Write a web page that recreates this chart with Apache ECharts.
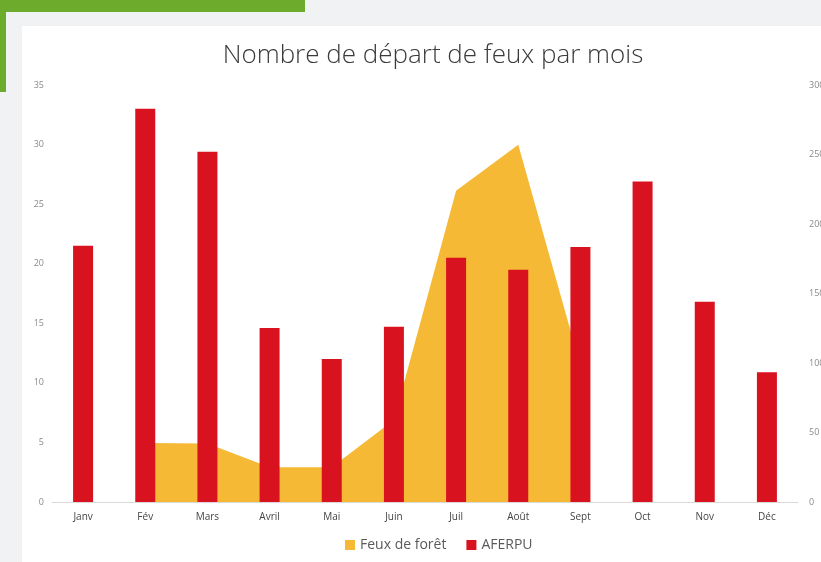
<!DOCTYPE html>
<html>
<head>
<meta charset="utf-8">
<script src="https://cdn.jsdelivr.net/npm/echarts@6/dist/echarts.min.js"></script>
<style>
  html, body { margin: 0; padding: 0; background: #ffffff; }
  #chart { width: 821px; height: 562px; }
</style>
</head>
<body>
<div id="chart"></div>
<script>
// months along the x axis
const months = ["Janv", "Fév", "Mars", "Avril", "Mai", "Juin", "Juil", "Août", "Sept", "Oct", "Nov", "Déc"];
// AFERPU, bars, left axis
const aferpu = [21.5, 33, 29.4, 14.6, 12, 14.7, 20.5, 19.5, 21.4, 26.9, 16.8, 10.9];
// Feux de forêt, area, right axis (no values outside Fév-Sept)
const feuxForet = [null, 42.5, 42, 25, 25, 59, 224, 257, 98, null, null, null];
// tick labels
const leftTicks = [0, 5, 10, 15, 20, 25, 30, 35];
const rightTicks = [0, 50, 100, 150, 200, 250, 300];

const chart = echarts.init(document.getElementById("chart"));

chart.setOption({
  backgroundColor: "#f1f2f4",
  animation: false,
  graphic: [
    { type: "rect", left: 22, top: 26, shape: { width: 799, height: 536 }, style: { fill: "#ffffff" }, z: -10 },
    { type: "rect", left: 0, top: 0, shape: { width: 305, height: 12 }, style: { fill: "#6cab2c" }, z: -5 },
    { type: "rect", left: 0, top: 0, shape: { width: 6, height: 92 }, style: { fill: "#6cab2c" }, z: -5 },
  ],
  title: {
    text: "Nombre de départ de feux par mois",
    left: 428,
    textAlign: "center",
    top: 38,
    textStyle: {
      fontFamily: "Open Sans",
      fontWeight: 300,
      fontSize: 26,
      color: "#3a3a3a",
    },
  },
  legend: {
    bottom: 5,
    left: 340,
    itemWidth: 10,
    itemHeight: 10,
    itemGap: 20,
    icon: "rect",
    textStyle: { fontFamily: "Open Sans", fontSize: 14, color: "#5a5a5a" },
    data: ["Feux de forêt", "AFERPU"],
  },
  grid: {
    left: 52,
    right: 23,
    top: 85,
    bottom: 60,
    containLabel: false,
    outerBoundsMode: "none",
  },
  xAxis: {
    type: "category",
    data: months,
    axisTick: { show: false },
    axisLine: { lineStyle: { color: "#d9d9d9" } },
    axisLabel: {
      fontFamily: "Open Sans",
      fontSize: 10,
      color: "#444444",
      margin: 10,
    },
  },
  yAxis: [
    {
      type: "value",
      min: 0,
      max: leftTicks[leftTicks.length - 1],
      interval: 5,
      splitLine: { show: false },
      axisLine: { show: false },
      axisTick: { show: false },
      axisLabel: { fontFamily: "Open Sans", fontSize: 9, color: "#8a8a8a", margin: 8 },
    },
    {
      type: "value",
      min: 0,
      max: rightTicks[rightTicks.length - 1],
      interval: 50,
      splitLine: { show: false },
      axisLine: { show: false },
      axisTick: { show: false },
      axisLabel: { fontFamily: "Open Sans", fontSize: 9, color: "#8a8a8a", margin: 11 },
    },
  ],
  series: [
    {
      name: "Feux de forêt",
      type: "line",
      yAxisIndex: 1,
      data: feuxForet,
      showSymbol: false,
      symbol: "none",
      lineStyle: { width: 0 },
      areaStyle: { color: "#f6b935", opacity: 1 },
      itemStyle: { color: "#f6b935" },
      z: 1,
    },
    {
      name: "AFERPU",
      type: "bar",
      yAxisIndex: 0,
      data: aferpu,
      barWidth: 20,
      itemStyle: { color: "#d9121f" },
      z: 3,
    },
  ],
});
</script>
</body>
</html>
